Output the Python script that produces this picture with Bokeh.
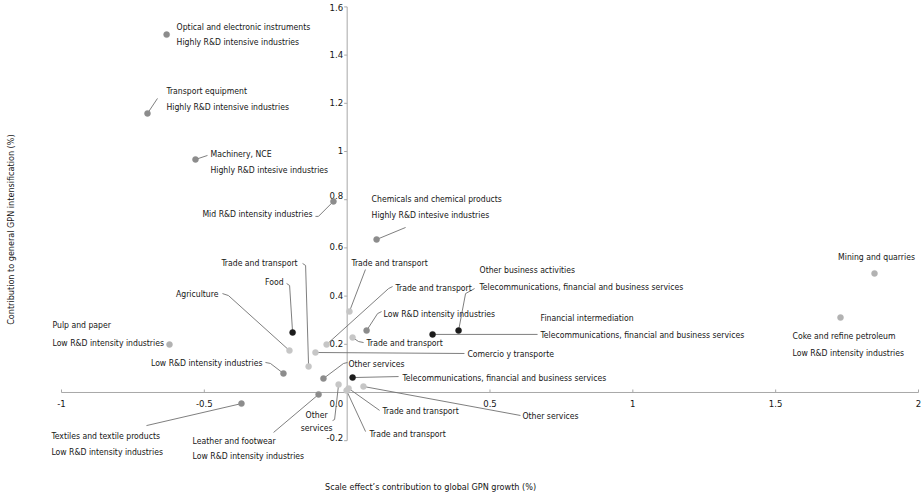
import math
from bokeh.plotting import figure
from bokeh.models import ColumnDataSource, Range1d
from bokeh.core.properties import value
from bokeh.embed import file_html
from bokeh.resources import INLINE

# ---------------------------------------------------------------- data
sector = [
    "Optical and electronic instruments", "Transport equipment", "Machinery, NCE",
    "Mid R&D intensity industries", "Chemicals and chemical products",
    "Mining and quarries", "Coke and refine petroleum", "Pulp and paper",
    "Food", "Agriculture", "Trade and transport", "Low R&D intensity industries",
    "Comercio y transporte", "Trade and transport", "Trade and transport",
    "Low R&D intensity industries", "Trade and transport",
    "Financial intermediation", "Other business activities", "Other services",
    "Telecommunications, financial and business services", "Other\nservices",
    "Other services", "Trade and transport", "Trade and transport",
    "Leather and footwear", "Textiles and textile products",
]
group = [
    "Highly R&D intensive industries", "Highly R&D intensive industries",
    "Highly R&D intesive industries", "", "Highly R&D intesive industries",
    "", "Low R&D intensity industries", "Low R&D intensity industries",
    "", "", "", "", "", "", "", "", "",
    "Telecommunications, financial and business services",
    "Telecommunications, financial and business services",
    "", "", "", "", "", "",
    "Low R&D intensity industries", "Low R&D intensity industries",
]
scale_effect = [
    -0.632, -0.699, -0.531, -0.048, 0.103, 1.846, 1.727, -0.622,
    -0.191, -0.202, -0.135, -0.223, -0.111, -0.072, 0.008, 0.068, 0.019,
    0.299, 0.390, -0.083, 0.019, -0.030, 0.057, 0.005, -0.002,
    -0.100, -0.370,
]
intensification = [
    1.485, 1.158, 0.967, 0.793, 0.635, 0.494, 0.311, 0.199,
    0.249, 0.174, 0.108, 0.079, 0.166, 0.199, 0.336, 0.257, 0.228,
    0.241, 0.257, 0.058, 0.062, 0.033, 0.025, 0.017, 0.008,
    -0.008, -0.046,
]
tone = [
    "mid", "mid", "mid", "mid", "mid", "pale", "pale", "pale",
    "dark", "light", "light", "mid", "light", "light", "light", "mid", "light",
    "dark", "dark", "mid", "dark", "light", "light", "light", "light",
    "mid", "mid",
]

x_ticks = [-1, -0.5, 0.5, 1, 1.5, 2]
x_tick_labels = ["-1", "-0.5", "0.5", "1", "1.5", "2"]
y_ticks = [1.6, 1.4, 1.2, 1.0, 0.8, 0.6, 0.4, 0.2, 0.0, -0.2]
y_tick_labels = ["1.6", "1.4", "1.2", "1", "0.8", "0.6", "0.4", "0.2", "0.0", "-0.2"]

x_title = "Scale effect\u2019s contribution to global GPN growth (%)"
y_title = "Contribution to general GPN intensification (%)"

# ---------------------------------------------------------------- styling
W, H = 921, 495
X_START, X_END = -1.2135, 2.0105
Y_START, Y_END = -0.4274, 1.6266
PX_X = W / (X_END - X_START)
PX_Y = H / (Y_END - Y_START)

FONT = value("DejaVu Sans Condensed")
FS = "8.6px"
TICK_FS = "9.5px"
TITLE_FS = "9px"
TEXT_COLOR = "#151515"
LEADER_COLOR = "#707070"
AXIS_COLOR = "#a8a8a8"
TONES = {"dark": "#1c1c1c", "mid": "#8c8c8c", "light": "#c6c6c6", "pale": "#b2b2b2"}

# label placement per point, in screen pixels relative to the marker:
# (dx, dy, align, line gap, leader path)
layout = [
    (10, -8, "left", 15, []),
    (19, -22, "left", 16, [(10, -15)]),
    (15, -5, "left", 16, [(12, -4)]),
    (-21, 13, "right", 16, [(-15, 15), (-18, 15)]),
    (-5, -40, "left", 16, [(29, -12)]),
    (2, -16, "center", 16, []),
    (-48, 18, "left", 17, []),
    (-117, -20, "left", 18, []),
    (-9, -50, "right", 16, [(-3, -47), (-6, -49)]),
    (-71, -57, "right", 16, [(-61, -55), (-67, -57)]),
    (-11, -103, "right", 16, [(-3, -101), (-6, -103)]),
    (-21, -10, "right", 16, [(-13, -10), (-18, -11)]),
    (152, 2, "left", 16, [(149, 1)]),
    (69, -57, "left", 16, [(62, -56), (66, -58)]),
    (2, -49, "left", 16, [(16, -42)]),
    (17, -17, "left", 16, [(11, -17), (15, -19)]),
    (14, 5, "left", 16, [(6, 4), (11, 5)]),
    (108, -16, "left", 17, [(105, 0)]),
    (21, -61, "left", 17, [(7, -37), (16, -42)]),
    (25, -15, "left", 16, [(20, -15), (24, -16)]),
    (50, 0, "left", 16, [(46, -1)]),
    (-22, 30, "center", 13, [(-4, 35), (-6, 36)]),
    (159, 30, "left", 16, [(157, 29)]),
    (34, 23, "left", 16, [(31, 22)]),
    (23, 43, "left", 16, [(19, 41)]),
    (-126, 47, "left", 15, [(-45, 38)]),
    (-190, 32, "left", 16, [(-95, 22)]),
]

p = figure(
    width=W, height=H, output_backend="svg", toolbar_location=None,
    x_range=Range1d(X_START, X_END), y_range=Range1d(Y_START, Y_END),
    min_border=0, outline_line_color=None, background_fill_color="white",
    border_fill_color="white",
)
p.axis.visible = False
p.grid.visible = False

# axes drawn through the origin
p.segment(x0=[-1.0, 0.0], y0=[0.0, -0.2], x1=[2.0, 0.0], y1=[0.0, 1.6],
          line_color=AXIS_COLOR, line_width=1)
tick_len_y = 3 / PX_Y
tick_len_x = 3 / PX_X
p.segment(x0=x_ticks, y0=[0.0] * len(x_ticks), x1=x_ticks,
          y1=[tick_len_y] * len(x_ticks), line_color=AXIS_COLOR, line_width=1)
p.segment(x0=[0.0] * len(y_ticks), y0=y_ticks, x1=[-tick_len_x] * len(y_ticks),
          y1=y_ticks, line_color=AXIS_COLOR, line_width=1)

p.text(x=x_ticks, y=[0.0] * len(x_ticks), text=x_tick_labels, y_offset=11,
       text_align="center", text_baseline="middle", text_font=FONT,
       text_font_size=TICK_FS, text_color=TEXT_COLOR)
y_label_shift = [1, -1, -1, -1, -4, -1, -1, -1, 11, -3]
p.text(x=[0.0] * len(y_ticks), y=y_ticks, text=y_tick_labels, x_offset=-4,
       y_offset=y_label_shift, text_align="right", text_baseline="middle",
       text_font=FONT, text_font_size=TICK_FS, text_color=TEXT_COLOR)

# axis titles
p.text(x=[0.292], y=[-0.394], text=[x_title], text_align="center",
       text_baseline="middle", text_font=FONT, text_font_size=TITLE_FS,
       text_color=TEXT_COLOR)
p.text(x=[-1.178], y=[0.676], text=[y_title], angle=math.pi / 2,
       text_align="center", text_baseline="middle", text_font=FONT,
       text_font_size=TITLE_FS, text_color=TEXT_COLOR)

# leader lines
xs, ys = [], []
for xv, yv, lay in zip(scale_effect, intensification, layout):
    path = lay[4]
    if not path:
        continue
    xs.append([xv] + [xv + dx / PX_X for dx, _ in path])
    ys.append([yv] + [yv - dy / PX_Y for _, dy in path])
p.multi_line(xs=xs, ys=ys, line_color=LEADER_COLOR, line_width=0.9)

# markers
pts = ColumnDataSource(dict(
    x=scale_effect, y=intensification, color=[TONES[t] for t in tone]))
p.scatter(x="x", y="y", source=pts, size=6, fill_color="color",
          line_color="color", line_width=0.5)

# labels
rows = {"left": [], "right": [], "center": []}
for xv, yv, sec, grp, lay in zip(scale_effect, intensification, sector, group, layout):
    dx, dy, align, gap, _ = lay
    lines = sec.split("\n") + ([grp] if grp else [])
    for k, line in enumerate(lines):
        rows[align].append((xv, yv, line, dx, dy + k * gap))
for align, items in rows.items():
    if not items:
        continue
    src = ColumnDataSource(dict(
        x=[r[0] for r in items], y=[r[1] for r in items],
        text=[r[2] for r in items], xo=[r[3] for r in items],
        yo=[r[4] for r in items]))
    p.text(x="x", y="y", text="text", x_offset="xo", y_offset="yo", source=src,
           text_align=align, text_baseline="middle", text_font=FONT,
           text_font_size=FS, text_color=TEXT_COLOR)

open("out.html", "w").write(file_html(p, INLINE))
